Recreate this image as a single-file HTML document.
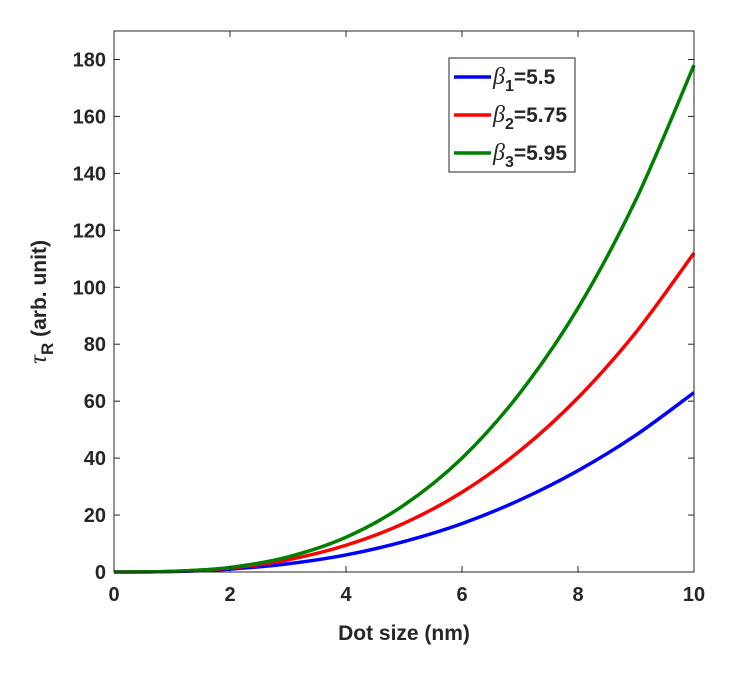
<!DOCTYPE html>
<html><head><meta charset="utf-8"><style>
body{margin:0;background:#fff;}
svg text{font-family:"Liberation Sans",Arial,sans-serif;font-weight:bold;fill:#262626;}
</style></head><body>
<svg id="chart" width="749" height="679">
<rect x="0" y="0" width="749" height="679" fill="#fff"/>
<g id="lines"></g>
<g id="axes"></g>
<text x="404" y="640" font-size="21" text-anchor="middle">Dot size (nm)</text>
<text transform="translate(46,302) rotate(-90)" font-size="21" text-anchor="middle"><tspan font-style="italic" font-weight="normal" font-family="'Liberation Serif',serif" font-size="25">τ</tspan><tspan dy="7" font-size="17">R</tspan><tspan dy="-7"> (arb. unit)</tspan></text>
<g>
<rect x="449" y="58" width="126" height="114" fill="#fff" stroke="#262626" stroke-width="1"/>
<g id="legend-items"></g>
</g>
</svg>
<script>
const xs=[0,1,2,3,4,5,6,7,8,9,10];
const blue=[0,0.17,1.03,2.9,6.0,10.7,17.0,25.3,35.6,48.1,63];
const red=[0,0.22,1.4,4.3,9.4,17.1,28,42.6,61.2,84.2,112];
const green=[0,0.21,1.6,5.3,12.2,23.5,40,62.9,92.7,130.8,178];
const xTicks=[0,2,4,6,8,10];
const yTicks=[0,20,40,60,80,100,120,140,160,180];
const seriesNames=["1","2","3"];
const seriesVals=["5.5","5.75","5.95"];
const X0=114,X1=694,Y0=572,Y1=31;
const xs_=v=>X0+(v-0)/(10-0)*(X1-X0);
const ys_=v=>Y0-(v-0)/(190-0)*(Y0-Y1);
const NS="http://www.w3.org/2000/svg";
function mk(t,a,p){const e=document.createElementNS(NS,t);for(const k in a)e.setAttribute(k,a[k]);p.appendChild(e);return e;}
const axes=document.getElementById('axes');
const box=mk('rect',{x:X0,y:Y1,width:X1-X0,height:Y0-Y1,fill:'none',stroke:'#262626','stroke-width':1},axes);


xTicks.forEach(t=>{const x=xs_(t);
 mk('line',{x1:x,x2:x,y1:Y0,y2:Y0-6,stroke:'#262626'},axes);
 mk('line',{x1:x,x2:x,y1:Y1,y2:Y1+6,stroke:'#262626'},axes);
 const tx=mk('text',{x:x,y:Y0+29,'font-size':20,'text-anchor':'middle'},axes);tx.textContent=t;
 
 
});
yTicks.forEach(t=>{const y=ys_(t);
 mk('line',{x1:X0,x2:X0+6,y1:y,y2:y,stroke:'#262626'},axes);
 mk('line',{x1:X1,x2:X1-6,y1:y,y2:y,stroke:'#262626'},axes);
 const tx=mk('text',{x:X0-8,y:y+7,'font-size':20,'text-anchor':'end'},axes);tx.textContent=t;
 
 
});
function pathFor(vals){const p=xs.map((x,i)=>[xs_(x),ys_(vals[i])]);let d='M'+p[0][0]+','+p[0][1];
 for(let i=0;i<p.length-1;i++){const a=p[Math.max(0,i-1)],b=p[i],c=p[i+1],e=p[Math.min(p.length-1,i+2)];
  d+=' C'+(b[0]+(c[0]-a[0])/6)+','+(b[1]+(c[1]-a[1])/6)+' '+(c[0]-(e[0]-b[0])/6)+','+(c[1]-(e[1]-b[1])/6)+' '+c[0]+','+c[1];}
 return d;}
const lines=document.getElementById('lines');
const cols=['#0000ff','#ff0000','#007f00'];
[blue,red,green].forEach((s,i)=>{const l=mk('path',{d:pathFor(s),fill:'none',stroke:cols[i],'stroke-width':3.5},lines);
 
 
});
const li=document.getElementById('legend-items');
seriesNames.forEach((n,i)=>{const y=77+i*38;
 const g=mk('g',{},li);
 
 
 mk('line',{x1:454,x2:491,y1:y,y2:y,stroke:cols[i],'stroke-width':3.5},g);
 const t=mk('text',{x:493,y:y+7,'font-size':21},g);
 t.innerHTML='<tspan font-style="italic" font-weight="normal" font-family="\'Liberation Serif\',serif" font-size="24">β</tspan><tspan dy="7" font-size="16">'+n+'</tspan><tspan dy="-7">='+seriesVals[i]+'</tspan>';
});
</script>
</body></html>
